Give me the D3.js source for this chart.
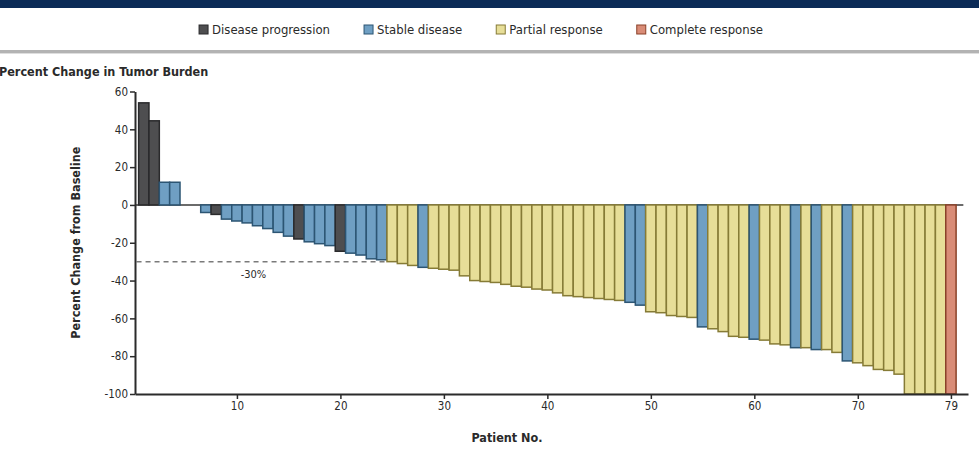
<!DOCTYPE html>
<html>
<head>
<meta charset="utf-8">
<script src="https://cdn.jsdelivr.net/npm/d3@7"></script>
<style>
  html, body { margin: 0; padding: 0; background: #ffffff; }
  svg { display: block; }
  text { font-family: "DejaVu Sans Condensed", "Liberation Sans Narrow", "DejaVu Sans", sans-serif; fill: #2a2a2a; }
</style>
</head>
<body>
<svg id="chart" width="979" height="469"></svg>
<script>
// ---------------- data ----------------
const responseCategories = ["Disease progression", "Stable disease", "Partial response", "Complete response"];
const categoryFill   = ["#4e4e50", "#6f9fc3", "#e7de98", "#d98c77"];
const categoryStroke = ["#2a2a2c", "#2c5573", "#867b36", "#8a4129"];

// percent change from baseline, patients 1..79 (sorted waterfall)
const percentChange = [
  54, 44.5, 12, 12, 0, 0, -4, -5, -7.5, -8.5,
  -9.5, -11, -12.5, -14.5, -16.5, -18, -19.5, -20.5, -21.5, -24.5,
  -25.5, -26.5, -28.5, -29, -30, -31, -32, -33, -33.5, -34,
  -34.5, -37.5, -40, -40.5, -41, -42, -43, -43.5, -44.5, -45,
  -46.5, -48, -48.5, -49, -49.5, -50, -50.5, -51.5, -53, -56.5,
  -57, -58.5, -59, -59.5, -64.5, -65.5, -67, -69.5, -70, -71,
  -71.5, -73.5, -74, -75.5, -75.5, -76.5, -76.5, -78, -82.5, -83.5,
  -85, -87, -87.5, -89.5, -100, -100, -100, -100, -100
];
// best response per patient (index into responseCategories)
const bestResponse = [
  0, 0, 1, 1, 1, 1, 1, 0, 1, 1,
  1, 1, 1, 1, 1, 0, 1, 1, 1, 0,
  1, 1, 1, 1, 2, 2, 2, 1, 2, 2,
  2, 2, 2, 2, 2, 2, 2, 2, 2, 2,
  2, 2, 2, 2, 2, 2, 2, 1, 1, 2,
  2, 2, 2, 2, 1, 2, 2, 2, 2, 1,
  2, 2, 2, 1, 2, 1, 2, 2, 1, 2,
  2, 2, 2, 2, 2, 2, 2, 2, 3
];
const yTicks = [60, 40, 20, 0, -20, -40, -60, -80, -100];
const xTicks = [10, 20, 30, 40, 50, 60, 70, 79];
const thresholdValue = -30;
const thresholdLabel = "-30%";

const titleText = "Percent Change in Tumor Burden";
const yAxisTitle = "Percent Change from Baseline";
const xAxisTitle = "Patient No.";

const patients = percentChange.map((v, i) => ({ id: i + 1, value: v, cat: bestResponse[i] }));

// ---------------- layout ----------------
const svg = d3.select("#chart");
const W = 979, H = 469;

// top header strip and separator
svg.append("rect").attr("x", 0).attr("y", 0).attr("width", W).attr("height", 8).attr("fill", "#0b2b57");
svg.append("rect").attr("x", 0).attr("y", 50).attr("width", W).attr("height", 3).attr("fill", "#b3b3b3");
svg.append("rect").attr("x", 0).attr("y", 53).attr("width", W).attr("height", 1).attr("fill", "#dedede");

// scales
const x = d3.scaleLinear().domain([0.15, 80.65]).range([135, 968]);
const y = d3.scaleLinear().domain([-100, 60]).range([394, 91.5]);
const bw = x(1) - x(0);

// title
svg.append("text").attr("x", -1).attr("y", 76)
  .attr("font-size", 12.5).attr("font-weight", "bold").attr("fill", "#1a1a1a")
  .text(titleText);

// legend
const legend = svg.append("g");
const legendGap = 34;
let lx = 0;
responseCategories.forEach((c, i) => {
  const g = legend.append("g").attr("transform", `translate(${lx},0)`);
  g.append("rect").attr("x", 0).attr("y", -5).attr("width", 9).attr("height", 9)
    .attr("fill", categoryFill[i]).attr("stroke", categoryStroke[i]).attr("stroke-width", 1);
  const t = g.append("text").attr("x", 13).attr("y", 4).attr("font-size", 13).attr("fill", "#333").text(c);
  lx += 13 + t.node().getComputedTextLength() + legendGap;
});
const legendW = lx - legendGap;
legend.attr("transform", `translate(${481 - legendW / 2},30)`);

// zero line
svg.append("line")
  .attr("x1", x(0.15)).attr("x2", x(80.2))
  .attr("y1", y(0)).attr("y2", y(0))
  .attr("stroke", "#3a3a3a").attr("stroke-width", 1.5);

// threshold dashed line
svg.append("line")
  .attr("x1", x(0.3)).attr("x2", x(24.5))
  .attr("y1", y(thresholdValue)).attr("y2", y(thresholdValue))
  .attr("stroke", "#7a7a7a").attr("stroke-width", 1.5).attr("stroke-dasharray", "5,4");
svg.append("text").attr("x", x(11.6)).attr("y", y(thresholdValue) + 16)
  .attr("text-anchor", "middle").attr("font-size", 11).attr("fill", "#333").text(thresholdLabel);

// bars
svg.append("g").selectAll("rect").data(patients).join("rect")
  .attr("x", d => x(d.id - 0.5))
  .attr("width", bw)
  .attr("y", d => y(Math.max(0, d.value)))
  .attr("height", d => Math.abs(y(d.value) - y(0)))
  .attr("fill", d => categoryFill[d.cat])
  .attr("stroke", d => categoryStroke[d.cat])
  .attr("stroke-width", 1.5);

// axes
const yAxis = svg.append("g").attr("transform", `translate(${x(0.15)},0)`)
  .call(d3.axisLeft(y).tickValues(yTicks).tickSize(5).tickSizeOuter(0).tickPadding(2).tickFormat(d => String(d)));
const xAxis = svg.append("g").attr("transform", `translate(0,${y(-100)})`)
  .call(d3.axisBottom(x).tickValues(xTicks).tickSize(5).tickSizeOuter(0).tickPadding(3).tickFormat(d => String(d)));
[yAxis, xAxis].forEach(a => {
  a.select(".domain").attr("stroke", "#2b2b2b").attr("stroke-width", 2);
  a.selectAll(".tick line").attr("stroke", "#2b2b2b").attr("stroke-width", 1.5);
  a.selectAll(".tick text").attr("font-size", 11.5).attr("fill", "#333")
    .style("font-family", '"DejaVu Sans Condensed", "Liberation Sans Narrow", sans-serif');
});

// axis titles
svg.append("text")
  .attr("transform", `translate(80,${(y(60) + y(-100)) / 2}) rotate(-90)`)
  .attr("text-anchor", "middle").attr("font-size", 12.5).attr("font-weight", "bold").attr("fill", "#222")
  .text(yAxisTitle);
svg.append("text").attr("x", 507).attr("y", 442)
  .attr("text-anchor", "middle").attr("font-size", 12.5).attr("font-weight", "bold").attr("fill", "#222")
  .text(xAxisTitle);
</script>
</body>
</html>
